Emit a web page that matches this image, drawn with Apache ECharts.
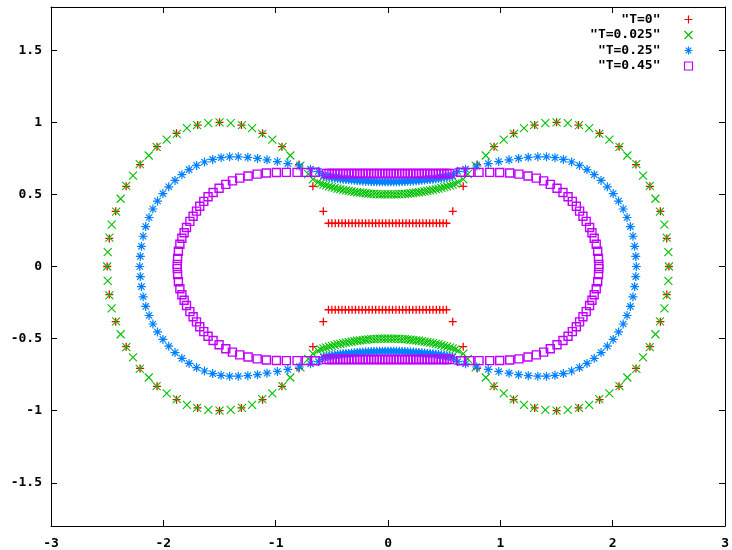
<!DOCTYPE html>
<html>
<head>
<meta charset="utf-8">
<script src="https://cdn.jsdelivr.net/npm/echarts@6/dist/echarts.min.js"></script>
<style>html,body{margin:0;padding:0;background:#fff}#c{width:732px;height:550px}</style>
</head>
<body>
<div id="c"></div>
<script>
const seriesNames = ['"T=0"', '"T=0.025"', '"T=0.25"', '"T=0.45"'];
const xTicks = [-3, -2, -1, 0, 1, 2, 3];
const yTicks = [-1.5, -1, -0.5, 0, 0.5, 1, 1.5];

// T=0
const t0LobeLeft = [[-0.576,0.383],[-0.669,0.556],[-0.793,0.707],[-0.944,0.831],[-1.117,0.924],[-1.305,0.981],[-1.5,1],[-1.695,0.981],[-1.883,0.924],[-2.056,0.831],[-2.207,0.707],[-2.331,0.556],[-2.424,0.383],[-2.481,0.195],[-2.5,0],[-2.481,-0.195],[-2.424,-0.383],[-2.331,-0.556],[-2.207,-0.707],[-2.056,-0.831],[-1.883,-0.924],[-1.695,-0.981],[-1.5,-1],[-1.305,-0.981],[-1.117,-0.924],[-0.944,-0.831],[-0.793,-0.707],[-0.669,-0.556],[-0.576,-0.383]];
const t0LobeRight = [[0.576,0.383],[0.669,0.556],[0.793,0.707],[0.944,0.831],[1.117,0.924],[1.305,0.981],[1.5,1],[1.695,0.981],[1.883,0.924],[2.056,0.831],[2.207,0.707],[2.331,0.556],[2.424,0.383],[2.481,0.195],[2.5,0],[2.481,-0.195],[2.424,-0.383],[2.331,-0.556],[2.207,-0.707],[2.056,-0.831],[1.883,-0.924],[1.695,-0.981],[1.5,-1],[1.305,-0.981],[1.117,-0.924],[0.944,-0.831],[0.793,-0.707],[0.669,-0.556],[0.576,-0.383]];
const t0NeckTop = [[-0.53,0.3],[-0.5,0.3],[-0.47,0.3],[-0.44,0.3],[-0.41,0.3],[-0.38,0.3],[-0.35,0.3],[-0.32,0.3],[-0.29,0.3],[-0.26,0.3],[-0.23,0.3],[-0.2,0.3],[-0.17,0.3],[-0.14,0.3],[-0.11,0.3],[-0.08,0.3],[-0.05,0.3],[-0.02,0.3],[0.01,0.3],[0.04,0.3],[0.07,0.3],[0.1,0.3],[0.13,0.3],[0.16,0.3],[0.19,0.3],[0.22,0.3],[0.25,0.3],[0.28,0.3],[0.31,0.3],[0.34,0.3],[0.37,0.3],[0.4,0.3],[0.43,0.3],[0.46,0.3],[0.49,0.3],[0.52,0.3]];
const t0NeckBottom = [[-0.53,-0.3],[-0.5,-0.3],[-0.47,-0.3],[-0.44,-0.3],[-0.41,-0.3],[-0.38,-0.3],[-0.35,-0.3],[-0.32,-0.3],[-0.29,-0.3],[-0.26,-0.3],[-0.23,-0.3],[-0.2,-0.3],[-0.17,-0.3],[-0.14,-0.3],[-0.11,-0.3],[-0.08,-0.3],[-0.05,-0.3],[-0.02,-0.3],[0.01,-0.3],[0.04,-0.3],[0.07,-0.3],[0.1,-0.3],[0.13,-0.3],[0.16,-0.3],[0.19,-0.3],[0.22,-0.3],[0.25,-0.3],[0.28,-0.3],[0.31,-0.3],[0.34,-0.3],[0.37,-0.3],[0.4,-0.3],[0.43,-0.3],[0.46,-0.3],[0.49,-0.3],[0.52,-0.3]];

// T=0.025
const t025LobeLeft = [[-0.67,0.605],[-0.71,0.64],[-0.78,0.70],[-0.87,0.77],[-0.94,0.83],[-1.03,0.88],[-1.12,0.92],[-1.21,0.96],[-1.30,0.98],[-1.40,0.995],[-1.50,1.00],[-1.60,0.995],[-1.70,0.98],[-1.79,0.96],[-1.88,0.92],[-1.97,0.88],[-2.06,0.83],[-2.13,0.77],[-2.21,0.71],[-2.27,0.63],[-2.33,0.56],[-2.38,0.47],[-2.42,0.38],[-2.46,0.29],[-2.48,0.20],[-2.495,0.10],[-2.50,0],[-2.495,-0.10],[-2.48,-0.20],[-2.46,-0.29],[-2.42,-0.38],[-2.38,-0.47],[-2.33,-0.56],[-2.27,-0.63],[-2.21,-0.71],[-2.13,-0.77],[-2.06,-0.83],[-1.97,-0.88],[-1.88,-0.92],[-1.79,-0.96],[-1.70,-0.98],[-1.60,-0.995],[-1.50,-1.00],[-1.40,-0.995],[-1.30,-0.98],[-1.21,-0.96],[-1.12,-0.92],[-1.03,-0.88],[-0.94,-0.83],[-0.87,-0.77],[-0.78,-0.70],[-0.71,-0.64],[-0.67,-0.605]];
const t025LobeRight = [[0.67,0.605],[0.71,0.64],[0.78,0.70],[0.87,0.77],[0.94,0.83],[1.03,0.88],[1.12,0.92],[1.21,0.96],[1.30,0.98],[1.40,0.995],[1.50,1.00],[1.60,0.995],[1.70,0.98],[1.79,0.96],[1.88,0.92],[1.97,0.88],[2.06,0.83],[2.13,0.77],[2.21,0.71],[2.27,0.63],[2.33,0.56],[2.38,0.47],[2.42,0.38],[2.46,0.29],[2.48,0.20],[2.495,0.10],[2.50,0],[2.495,-0.10],[2.48,-0.20],[2.46,-0.29],[2.42,-0.38],[2.38,-0.47],[2.33,-0.56],[2.27,-0.63],[2.21,-0.71],[2.13,-0.77],[2.06,-0.83],[1.97,-0.88],[1.88,-0.92],[1.79,-0.96],[1.70,-0.98],[1.60,-0.995],[1.50,-1.00],[1.40,-0.995],[1.30,-0.98],[1.21,-0.96],[1.12,-0.92],[1.03,-0.88],[0.94,-0.83],[0.87,-0.77],[0.78,-0.70],[0.71,-0.64],[0.67,-0.605]];
const t025BandTop = [[-0.625,0.583],[-0.6,0.575],[-0.575,0.568],[-0.55,0.562],[-0.525,0.556],[-0.5,0.55],[-0.475,0.545],[-0.45,0.54],[-0.425,0.536],[-0.4,0.532],[-0.375,0.528],[-0.35,0.524],[-0.325,0.521],[-0.3,0.518],[-0.275,0.515],[-0.25,0.512],[-0.225,0.51],[-0.2,0.508],[-0.175,0.506],[-0.15,0.504],[-0.125,0.503],[-0.1,0.502],[-0.075,0.501],[-0.05,0.501],[-0.025,0.5],[0,0.5],[0.025,0.5],[0.05,0.501],[0.075,0.501],[0.1,0.502],[0.125,0.503],[0.15,0.504],[0.175,0.506],[0.2,0.508],[0.225,0.51],[0.25,0.512],[0.275,0.515],[0.3,0.518],[0.325,0.521],[0.35,0.524],[0.375,0.528],[0.4,0.532],[0.425,0.536],[0.45,0.54],[0.475,0.545],[0.5,0.55],[0.525,0.556],[0.55,0.562],[0.575,0.568],[0.6,0.575],[0.625,0.583]];
const t025BandBottom = [[-0.625,-0.583],[-0.6,-0.575],[-0.575,-0.568],[-0.55,-0.562],[-0.525,-0.556],[-0.5,-0.55],[-0.475,-0.545],[-0.45,-0.54],[-0.425,-0.536],[-0.4,-0.532],[-0.375,-0.528],[-0.35,-0.524],[-0.325,-0.521],[-0.3,-0.518],[-0.275,-0.515],[-0.25,-0.512],[-0.225,-0.51],[-0.2,-0.508],[-0.175,-0.506],[-0.15,-0.504],[-0.125,-0.503],[-0.1,-0.502],[-0.075,-0.501],[-0.05,-0.501],[-0.025,-0.5],[0,-0.5],[0.025,-0.5],[0.05,-0.501],[0.075,-0.501],[0.1,-0.502],[0.125,-0.503],[0.15,-0.504],[0.175,-0.506],[0.2,-0.508],[0.225,-0.51],[0.25,-0.512],[0.275,-0.515],[0.3,-0.518],[0.325,-0.521],[0.35,-0.524],[0.375,-0.528],[0.4,-0.532],[0.425,-0.536],[0.45,-0.54],[0.475,-0.545],[0.5,-0.55],[0.525,-0.556],[0.55,-0.562],[0.575,-0.568],[0.6,-0.575],[0.625,-0.583]];

// T=0.25
const t25LobeLeft = [[-0.62,0.66],[-0.69,0.675],[-0.79,0.697],[-0.892,0.714],[-0.985,0.728],[-1.077,0.74],[-1.162,0.75],[-1.248,0.757],[-1.333,0.761],[-1.41,0.761],[-1.486,0.755],[-1.561,0.743],[-1.634,0.725],[-1.704,0.701],[-1.771,0.672],[-1.835,0.637],[-1.896,0.597],[-1.952,0.553],[-2.004,0.506],[-2.052,0.454],[-2.093,0.399],[-2.127,0.34],[-2.157,0.277],[-2.18,0.21],[-2.195,0.14],[-2.205,0.07],[-2.21,0],[-2.205,-0.07],[-2.195,-0.14],[-2.18,-0.21],[-2.157,-0.277],[-2.127,-0.34],[-2.093,-0.399],[-2.052,-0.454],[-2.004,-0.506],[-1.952,-0.553],[-1.896,-0.597],[-1.835,-0.637],[-1.771,-0.672],[-1.704,-0.701],[-1.634,-0.725],[-1.561,-0.743],[-1.486,-0.755],[-1.41,-0.761],[-1.333,-0.761],[-1.248,-0.757],[-1.162,-0.75],[-1.077,-0.74],[-0.985,-0.728],[-0.892,-0.714],[-0.79,-0.697],[-0.69,-0.675],[-0.62,-0.66]];
const t25LobeRight = [[0.62,0.66],[0.69,0.675],[0.79,0.697],[0.892,0.714],[0.985,0.728],[1.077,0.74],[1.162,0.75],[1.248,0.757],[1.333,0.761],[1.41,0.761],[1.486,0.755],[1.561,0.743],[1.634,0.725],[1.704,0.701],[1.771,0.672],[1.835,0.637],[1.896,0.597],[1.952,0.553],[2.004,0.506],[2.052,0.454],[2.093,0.399],[2.127,0.34],[2.157,0.277],[2.18,0.21],[2.195,0.14],[2.205,0.07],[2.21,0],[2.205,-0.07],[2.195,-0.14],[2.18,-0.21],[2.157,-0.277],[2.127,-0.34],[2.093,-0.399],[2.052,-0.454],[2.004,-0.506],[1.952,-0.553],[1.896,-0.597],[1.835,-0.637],[1.771,-0.672],[1.704,-0.701],[1.634,-0.725],[1.561,-0.743],[1.486,-0.755],[1.41,-0.761],[1.333,-0.761],[1.248,-0.757],[1.162,-0.75],[1.077,-0.74],[0.985,-0.728],[0.892,-0.714],[0.79,-0.697],[0.69,-0.675],[0.62,-0.66]];
const t25BandTop = [[-0.575,0.63],[-0.55,0.624],[-0.525,0.62],[-0.5,0.616],[-0.475,0.613],[-0.45,0.61],[-0.425,0.607],[-0.4,0.605],[-0.375,0.603],[-0.35,0.601],[-0.325,0.6],[-0.3,0.598],[-0.275,0.596],[-0.25,0.594],[-0.225,0.593],[-0.2,0.592],[-0.175,0.591],[-0.15,0.59],[-0.125,0.589],[-0.1,0.588],[-0.075,0.588],[-0.05,0.587],[-0.025,0.587],[0,0.587],[0.025,0.587],[0.05,0.587],[0.075,0.588],[0.1,0.588],[0.125,0.589],[0.15,0.59],[0.175,0.591],[0.2,0.592],[0.225,0.593],[0.25,0.594],[0.275,0.596],[0.3,0.598],[0.325,0.6],[0.35,0.601],[0.375,0.603],[0.4,0.605],[0.425,0.607],[0.45,0.61],[0.475,0.613],[0.5,0.616],[0.525,0.62],[0.55,0.624],[0.575,0.63]];
const t25BandBottom = [[-0.575,-0.63],[-0.55,-0.624],[-0.525,-0.62],[-0.5,-0.616],[-0.475,-0.613],[-0.45,-0.61],[-0.425,-0.607],[-0.4,-0.605],[-0.375,-0.603],[-0.35,-0.601],[-0.325,-0.6],[-0.3,-0.598],[-0.275,-0.596],[-0.25,-0.594],[-0.225,-0.593],[-0.2,-0.592],[-0.175,-0.591],[-0.15,-0.59],[-0.125,-0.589],[-0.1,-0.588],[-0.075,-0.588],[-0.05,-0.587],[-0.025,-0.587],[0,-0.587],[0.025,-0.587],[0.05,-0.587],[0.075,-0.588],[0.1,-0.588],[0.125,-0.589],[0.15,-0.59],[0.175,-0.591],[0.2,-0.592],[0.225,-0.593],[0.25,-0.594],[0.275,-0.596],[0.3,-0.598],[0.325,-0.6],[0.35,-0.601],[0.375,-0.603],[0.4,-0.605],[0.425,-0.607],[0.45,-0.61],[0.475,-0.613],[0.5,-0.616],[0.525,-0.62],[0.55,-0.624],[0.575,-0.63]];

// T=0.45
const t45LobeLeft = [[-0.645,0.654],[-0.727,0.653],[-0.81,0.653],[-0.905,0.653],[-0.994,0.652],[-1.083,0.649],[-1.165,0.641],[-1.246,0.628],[-1.32,0.613],[-1.385,0.594],[-1.444,0.57],[-1.504,0.543],[-1.557,0.513],[-1.602,0.484],[-1.64,0.452],[-1.676,0.418],[-1.705,0.384],[-1.735,0.349],[-1.764,0.313],[-1.794,0.271],[-1.815,0.234],[-1.835,0.196],[-1.853,0.154],[-1.866,0.106],[-1.873,0.055],[-1.876,0.015],[-1.876,-0.015],[-1.873,-0.055],[-1.866,-0.106],[-1.853,-0.154],[-1.835,-0.196],[-1.815,-0.234],[-1.794,-0.271],[-1.764,-0.313],[-1.735,-0.349],[-1.705,-0.384],[-1.676,-0.418],[-1.64,-0.452],[-1.602,-0.484],[-1.557,-0.513],[-1.504,-0.543],[-1.444,-0.57],[-1.385,-0.594],[-1.32,-0.613],[-1.246,-0.628],[-1.165,-0.641],[-1.083,-0.649],[-0.994,-0.652],[-0.905,-0.653],[-0.81,-0.653],[-0.727,-0.653],[-0.645,-0.654]];
const t45LobeRight = [[0.645,0.654],[0.727,0.653],[0.81,0.653],[0.905,0.653],[0.994,0.652],[1.083,0.649],[1.165,0.641],[1.246,0.628],[1.32,0.613],[1.385,0.594],[1.444,0.57],[1.504,0.543],[1.557,0.513],[1.602,0.484],[1.64,0.452],[1.676,0.418],[1.705,0.384],[1.735,0.349],[1.764,0.313],[1.794,0.271],[1.815,0.234],[1.835,0.196],[1.853,0.154],[1.866,0.106],[1.873,0.055],[1.876,0.015],[1.876,-0.015],[1.873,-0.055],[1.866,-0.106],[1.853,-0.154],[1.835,-0.196],[1.815,-0.234],[1.794,-0.271],[1.764,-0.313],[1.735,-0.349],[1.705,-0.384],[1.676,-0.418],[1.64,-0.452],[1.602,-0.484],[1.557,-0.513],[1.504,-0.543],[1.444,-0.57],[1.385,-0.594],[1.32,-0.613],[1.246,-0.628],[1.165,-0.641],[1.083,-0.649],[0.994,-0.652],[0.905,-0.653],[0.81,-0.653],[0.727,-0.653],[0.645,-0.654]];
const t45BandTop = [[-0.55,0.645],[-0.525,0.645],[-0.5,0.645],[-0.475,0.645],[-0.45,0.645],[-0.425,0.645],[-0.4,0.645],[-0.375,0.645],[-0.35,0.645],[-0.325,0.645],[-0.3,0.645],[-0.275,0.645],[-0.25,0.645],[-0.225,0.645],[-0.2,0.645],[-0.175,0.645],[-0.15,0.645],[-0.125,0.645],[-0.1,0.645],[-0.075,0.645],[-0.05,0.645],[-0.025,0.645],[0,0.645],[0.025,0.645],[0.05,0.645],[0.075,0.645],[0.1,0.645],[0.125,0.645],[0.15,0.645],[0.175,0.645],[0.2,0.645],[0.225,0.645],[0.25,0.645],[0.275,0.645],[0.3,0.645],[0.325,0.645],[0.35,0.645],[0.375,0.645],[0.4,0.645],[0.425,0.645],[0.45,0.645],[0.475,0.645],[0.5,0.645],[0.525,0.645],[0.55,0.645]];
const t45BandBottom = [[-0.55,-0.645],[-0.525,-0.645],[-0.5,-0.645],[-0.475,-0.645],[-0.45,-0.645],[-0.425,-0.645],[-0.4,-0.645],[-0.375,-0.645],[-0.35,-0.645],[-0.325,-0.645],[-0.3,-0.645],[-0.275,-0.645],[-0.25,-0.645],[-0.225,-0.645],[-0.2,-0.645],[-0.175,-0.645],[-0.15,-0.645],[-0.125,-0.645],[-0.1,-0.645],[-0.075,-0.645],[-0.05,-0.645],[-0.025,-0.645],[0,-0.645],[0.025,-0.645],[0.05,-0.645],[0.075,-0.645],[0.1,-0.645],[0.125,-0.645],[0.15,-0.645],[0.175,-0.645],[0.2,-0.645],[0.225,-0.645],[0.25,-0.645],[0.275,-0.645],[0.3,-0.645],[0.325,-0.645],[0.35,-0.645],[0.375,-0.645],[0.4,-0.645],[0.425,-0.645],[0.45,-0.645],[0.475,-0.645],[0.5,-0.645],[0.525,-0.645],[0.55,-0.645]];

const seriesData = [
  [].concat(t0LobeLeft, t0LobeRight, t0NeckTop, t0NeckBottom),
  [].concat(t025LobeLeft, t025LobeRight, t025BandTop, t025BandBottom),
  [].concat(t25LobeLeft, t25LobeRight, t25BandTop, t25BandBottom),
  [].concat(t45LobeLeft, t45LobeRight, t45BandTop, t45BandBottom)
];
const colors = ['#ff0000', '#00c000', '#0080ff', '#c000ff'];
const symbols = [
  'path://M0 5L10 5M5 0L5 10',
  'path://M0 0L10 10M10 0L0 10',
  'path://M0 5L10 5M5 0L5 10M1.5 1.5L8.5 8.5M8.5 1.5L1.5 8.5',
  'path://M0 0L10 0L10 10L0 10Z'
];
const symbolSizes = [8, 8, 9, 8];
const borderWidths = [1.3, 1.1, 1.2, 1.4];

const FONT = 'DejaVu Sans Mono';
const labelStyle = {fontFamily: FONT, fontWeight: 'bold', fontSize: 13, color: '#000'};
const lineStyle = {color: '#000', width: 1};

const chart = echarts.init(document.getElementById('c'), null, {renderer: 'canvas'});
chart.setOption({
  animation: false,
  backgroundColor: '#fff',
  grid: {left: 51, right: 6, top: 7, bottom: 23, containLabel: false},
  xAxis: [
    {type: 'value', position: 'bottom', min: -3, max: 3, interval: 1,
     axisLine: {show: true, onZero: false, lineStyle: lineStyle},
     axisTick: {show: true, inside: true, length: 6, lineStyle: lineStyle},
     axisLabel: Object.assign({margin: 11, customValues: xTicks}, labelStyle),
     splitLine: {show: false}},
    {type: 'value', position: 'top', min: -3, max: 3, interval: 1,
     axisLine: {show: true, onZero: false, lineStyle: lineStyle},
     axisTick: {show: true, inside: true, length: 6, lineStyle: lineStyle},
     axisLabel: {show: false}, splitLine: {show: false}}
  ],
  yAxis: [
    {type: 'value', position: 'left', min: -1.8, max: 1.8,
     axisLine: {show: true, onZero: false, lineStyle: lineStyle},
     axisTick: {show: true, inside: true, length: 6, lineStyle: lineStyle, customValues: yTicks},
     axisLabel: Object.assign({margin: 9, customValues: yTicks}, labelStyle),
     splitLine: {show: false}},
    {type: 'value', position: 'right', min: -1.8, max: 1.8,
     axisLine: {show: true, onZero: false, lineStyle: lineStyle},
     axisTick: {show: true, inside: true, length: 6, lineStyle: lineStyle, customValues: yTicks},
     axisLabel: {show: false}, splitLine: {show: false}}
  ],
  legend: {
    orient: 'vertical', right: 37, top: 13, align: 'right',
    itemWidth: 8, itemHeight: 8, itemGap: 2.5, padding: 0,
    selectedMode: false,
    itemStyle: {borderWidth: 1.2},
    textStyle: Object.assign({padding: [0, 19, 0, 0]}, labelStyle),
    data: seriesNames
  },
  series: seriesNames.map((name, i) => ({
    name: name,
    type: 'scatter',
    xAxisIndex: 0, yAxisIndex: 0,
    symbol: symbols[i],
    symbolSize: symbolSizes[i],
    itemStyle: {color: 'none', borderColor: colors[i], borderWidth: borderWidths[i], opacity: 1},
    emphasis: {disabled: true},
    data: seriesData[i]
  }))
});
</script>
</body>
</html>
